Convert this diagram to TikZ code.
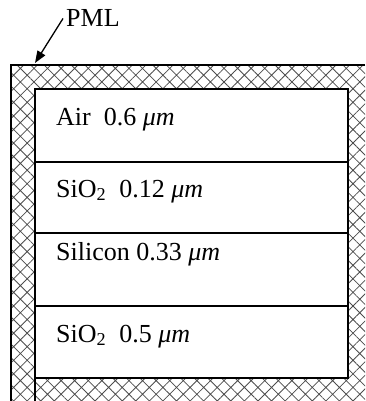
\documentclass[tikz,border=0pt]{standalone}
\usepackage{fontspec}
\setmainfont{Liberation Serif}
\usetikzlibrary{patterns.meta,arrows.meta}
\tikzset{
	pml/.style={pattern={Hatch[angle=45,distance=9.6pt,line width=0.8pt]},pattern color=black!70},
	frameline/.style={line width=1.8pt},
	layertext/.style={anchor=base west,inner sep=0pt,font=\fontsize{26}{30}\selectfont},
	pmltext/.style={anchor=base west,inner sep=3pt,font=\fontsize{26}{30}\selectfont}
}
\begin{document}
\begin{tikzpicture}[x=1pt,y=-1pt]
	\useasboundingbox (0,0) rectangle (365,401);
	\fill[pml,even odd rule] (11,65) rectangle (365,401) (35,89) rectangle (348,378);
	\draw[frameline] (365,65) -- (11,65) -- (11,401);
	\draw[frameline] (35,401) -- (35,89) -- (348,89) -- (348,378) -- (35,378);
	\foreach \y in {162,233,306}
	{
		\draw[frameline] (35,\y) -- (348,\y);
	}
	\node[layertext] (air) at (56,125) {Air\ \ 0.6 \textit{μm}};
	\node[layertext] (oxtop) at (56,197) {SiO\textsubscript{2}\ \ 0.12 \textit{μm}};
	\node[layertext] (silicon) at (56,260) {Silicon 0.33 \textit{μm}};
	\node[layertext] (oxbot) at (56,342) {SiO\textsubscript{2}\ \ 0.5 \textit{μm}};
	\node[pmltext] (pml) at (63,27) {PML};
	\coordinate (corner) at (35,63);
	\draw[line width=1.3pt,-{Triangle[length=12pt,width=9pt]}] (pml.west) -- (corner);
\end{tikzpicture}
\end{document}
